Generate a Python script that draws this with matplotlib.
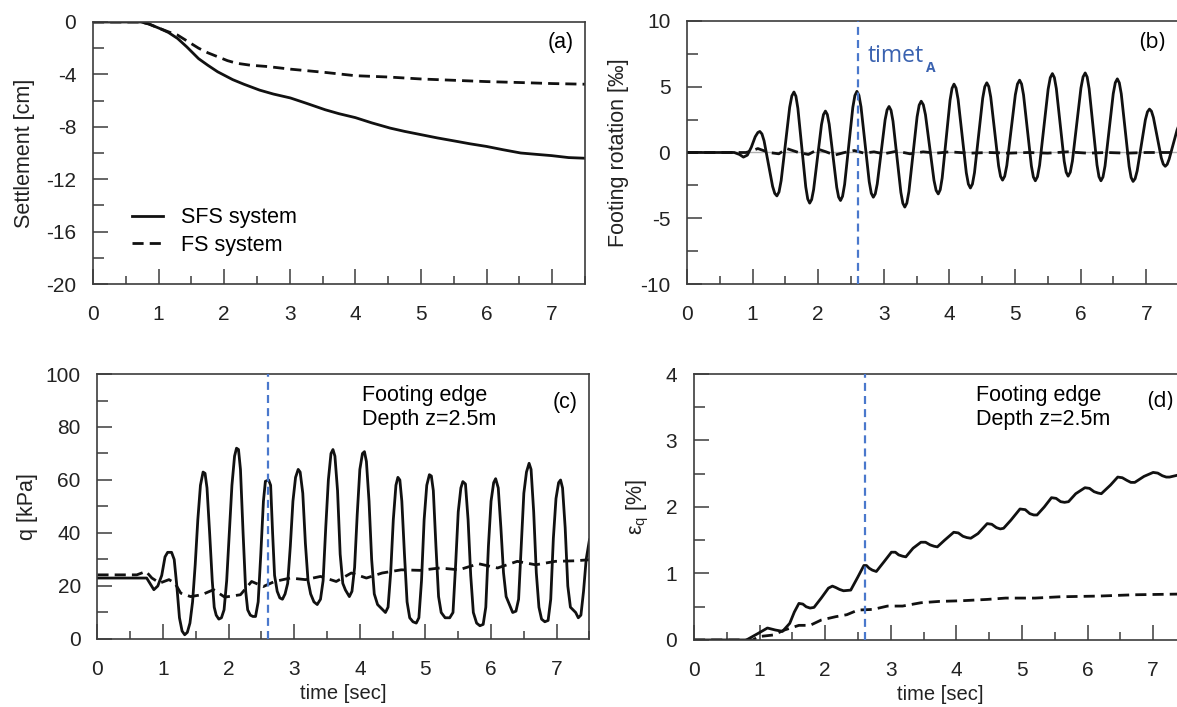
import matplotlib
matplotlib.use("Agg")
import matplotlib.pyplot as plt
from matplotlib.ticker import MultipleLocator

plt.rcParams['font.family'] = ['Liberation Sans', 'DejaVu Sans']
plt.rcParams['axes.unicode_minus'] = False

# (a) settlement [cm]
t_a = [0, 0.5, 0.73, 0.85, 1.02, 1.15, 1.29, 1.43, 1.61, 1.75, 1.9, 2.13, 2.3, 2.54, 2.75, 3.01, 3.25,
       3.54, 3.75, 4.0, 4.25, 4.53, 4.75, 5.0, 5.25, 5.53, 5.75, 6.0, 6.25, 6.52, 6.75, 6.99, 7.25, 7.5]
sfs_a = [0, 0, 0, -0.15, -0.5, -0.8, -1.26, -1.9, -2.8, -3.3, -3.8, -4.4, -4.75, -5.2, -5.5, -5.8, -6.2,
         -6.7, -7.0, -7.3, -7.7, -8.1, -8.35, -8.6, -8.85, -9.1, -9.3, -9.5, -9.75, -10.0, -10.1, -10.2, -10.35, -10.4]
t_a_fs = [0, 0.73, 0.85, 1.02, 1.15, 1.29, 1.45, 1.61, 1.75, 1.9, 2.05, 2.19, 2.4, 2.66, 3.01, 3.54,
          4.0, 4.5, 5.0, 5.5, 6.0, 6.5, 7.0, 7.5]
fs_a = [0, 0, -0.15, -0.5, -0.75, -1.0, -1.5, -2.0, -2.35, -2.65, -2.95, -3.15, -3.3, -3.4, -3.6, -3.85,
        -4.1, -4.2, -4.35, -4.45, -4.55, -4.62, -4.7, -4.75]

# (b) footing rotation [permil]
t_b = [0, 0.72, 0.80, 0.86, 0.92, 0.98, 1.04, 1.08, 1.11,
       1.1425, 1.175, 1.24, 1.305, 1.3375, 1.37,
       1.4025, 1.435, 1.50, 1.565, 1.5975, 1.63,
       1.66, 1.69, 1.75, 1.81, 1.84, 1.87,
       1.90, 1.93, 1.99, 2.05, 2.08, 2.11,
       2.139, 2.1675, 2.225, 2.2825, 2.311, 2.34,
       2.371, 2.4025, 2.465, 2.5275, 2.559, 2.59,
       2.621, 2.6525, 2.715, 2.7775, 2.809, 2.84,
       2.87, 2.90, 2.96, 3.02, 3.05, 3.08,
       3.11, 3.14, 3.20, 3.26, 3.29, 3.32,
       3.351, 3.3825, 3.445, 3.5075, 3.539, 3.57,
       3.6025, 3.635, 3.70, 3.765, 3.7975, 3.83,
       3.86, 3.89, 3.95, 4.01, 4.04, 4.07,
       4.101, 4.1325, 4.195, 4.2575, 4.289, 4.32,
       4.351, 4.3825, 4.445, 4.5075, 4.539, 4.57,
       4.60, 4.63, 4.69, 4.75, 4.78, 4.81,
       4.8425, 4.875, 4.94, 5.005, 5.0375, 5.07,
       5.10, 5.13, 5.19, 5.25, 5.28, 5.31,
       5.3425, 5.375, 5.44, 5.505, 5.5375, 5.57,
       5.60, 5.63, 5.69, 5.75, 5.78, 5.81,
       5.8425, 5.875, 5.94, 6.005, 6.0375, 6.07,
       6.10, 6.13, 6.19, 6.25, 6.28, 6.31,
       6.341, 6.3725, 6.435, 6.4975, 6.529, 6.56,
       6.59, 6.62, 6.68, 6.74, 6.77, 6.80,
       6.831, 6.8625, 6.925, 6.9875, 7.019, 7.05,
       7.08, 7.11, 7.17, 7.23, 7.26, 7.29,
       7.32, 7.35, 7.41, 7.47, 7.5]
sfs_b = [0, 0, -0.15, -0.35, -0.2, 0.4, 1.2, 1.52, 1.6,
         1.41, 0.88, -0.85, -2.58, -3.11, -3.3,
         -3.0, -2.14, 0.65, 3.44, 4.3, 4.6,
         4.28, 3.36, 0.38, -2.61, -3.53, -3.85,
         -3.58, -2.82, -0.35, 2.12, 2.88, 3.15,
         2.89, 2.15, -0.25, -2.65, -3.39, -3.65,
         -3.33, -2.43, 0.5, 3.43, 4.33, 4.65,
         4.35, 3.47, 0.63, -2.22, -3.1, -3.4,
         -3.14, -2.39, 0.05, 2.49, 3.24, 3.5,
         3.21, 2.38, -0.33, -3.03, -3.86, -4.15,
         -3.85, -2.97, -0.13, 2.72, 3.6, 3.9,
         3.63, 2.87, 0.38, -2.12, -2.88, -3.15,
         -2.83, -1.93, 1.03, 3.98, 4.88, 5.2,
         4.9, 4.04, 1.25, -1.54, -2.4, -2.7,
         -2.4, -1.53, 1.3, 4.13, 5.0, 5.3,
         5.02, 4.22, 1.6, -1.02, -1.82, -2.1,
         -1.81, -0.99, 1.7, 4.39, 5.21, 5.5,
         5.21, 4.38, 1.68, -1.03, -1.86, -2.15,
         -1.84, -0.96, 1.93, 4.81, 5.69, 6.0,
         5.7, 4.86, 2.1, -0.66, -1.5, -1.8,
         -1.5, -0.65, 2.13, 4.9, 5.75, 6.05,
         5.74, 4.85, 1.95, -0.95, -1.84, -2.15,
         -1.86, -1.02, 1.73, 4.47, 5.31, 5.6,
         5.3, 4.46, 1.7, -1.06, -1.9, -2.2,
         -1.99, -1.39, 0.55, 2.49, 3.09, 3.3,
         3.14, 2.66, 1.13, -0.41, -0.88, -1.05,
         -0.9, -0.5, 0.6, 1.7, 2.1]
t_b_fs = [0, 0.9, 1.0, 1.08, 1.25, 1.4, 1.52, 1.7, 1.85, 2.0, 2.12, 2.25, 2.4, 2.55, 2.7, 2.85, 3.0,
          3.2, 3.4, 3.6, 3.8, 4.0, 4.3, 4.6, 4.9, 5.2, 5.5, 5.8, 6.1, 6.4, 6.7, 7.0, 7.3, 7.5]
fs_b = [0, 0, 0.15, 0.3, 0.0, -0.1, 0.3, 0.0, -0.15, 0.25, 0.05, -0.2, 0.0, 0.15, -0.05, 0.05, -0.1,
        0.1, -0.1, 0.05, -0.05, 0.05, -0.05, 0.0, -0.05, 0.0, -0.05, 0.05, -0.05, 0.0, -0.05, 0.0, 0.0, 0.0]

# (c) q [kPa]
t_c = [0, 0.75, 0.80, 0.86, 0.92, 0.98, 1.03, 1.07, 1.13, 1.17, 1.21, 1.25, 1.29, 1.33, 1.37, 1.41,
       1.45, 1.49, 1.53, 1.57, 1.61, 1.64, 1.67, 1.71, 1.75, 1.78, 1.81, 1.85, 1.89, 1.93,
       1.97, 2.01, 2.05, 2.09, 2.12, 2.15, 2.18, 2.22, 2.26, 2.29, 2.33, 2.37, 2.41, 2.45,
       2.49, 2.53, 2.56, 2.61, 2.64, 2.67, 2.70, 2.74, 2.78, 2.82, 2.86, 2.90, 2.94, 2.98,
       3.02, 3.06, 3.09, 3.13, 3.17, 3.21, 3.25, 3.30, 3.35, 3.40, 3.44, 3.48, 3.52, 3.56,
       3.59, 3.62, 3.66, 3.70, 3.74, 3.78, 3.84, 3.88, 3.92, 3.96, 4.00, 4.04, 4.07, 4.10,
       4.14, 4.18, 4.22, 4.27, 4.33, 4.39, 4.43, 4.47, 4.51, 4.55, 4.58, 4.61, 4.64, 4.68,
       4.72, 4.76, 4.81, 4.86, 4.90, 4.94, 4.98, 5.02, 5.06, 5.09, 5.12, 5.16, 5.20, 5.24,
       5.30, 5.37, 5.42, 5.46, 5.50, 5.54, 5.57, 5.61, 5.65, 5.69, 5.73, 5.78, 5.83, 5.88,
       5.92, 5.96, 6.00, 6.04, 6.07, 6.11, 6.15, 6.19, 6.23, 6.28, 6.33, 6.38, 6.42, 6.46,
       6.50, 6.54, 6.58, 6.61, 6.65, 6.69, 6.73, 6.77, 6.82, 6.87, 6.91, 6.95, 6.99, 7.03,
       7.06, 7.09, 7.13, 7.17, 7.21, 7.25, 7.29, 7.33, 7.37, 7.41, 7.45, 7.5]
sfs_c = [23, 23, 21, 18.6, 20, 24, 31, 32.7, 32.7, 30, 20, 8, 3, 1.6, 2.5, 6,
         14, 28, 45, 58, 63, 62.5, 57, 40, 22, 12, 9, 7.5, 8, 11,
         22, 40, 58, 69, 72, 71.5, 64, 40, 18, 11, 9, 8.5, 8.5, 14,
         32, 52, 59.5, 60, 58, 40, 24, 18, 15.5, 15, 17, 21, 35, 52,
         61, 64, 63, 55, 36, 22, 17, 14, 13, 15, 22, 42, 60, 70,
         71.5, 69, 56, 32, 21, 18.5, 16, 18, 27, 47, 64, 70, 70.7, 67,
         52, 30, 17, 13, 11.5, 10, 12, 25, 45, 58, 61, 60, 52, 32,
         14, 8, 6.5, 6, 8, 22, 45, 58, 62, 61.5, 56, 35, 16, 10,
         8, 8, 10, 28, 48, 57, 59.4, 58.5, 45, 24, 10, 6, 5, 5.5,
         12, 35, 52, 59, 60.5, 57, 42, 25, 16, 13, 10, 10.5, 15, 35,
         55, 63, 66.3, 64, 48, 25, 12, 7.5, 6.5, 7, 15, 38, 53, 59,
         60, 57, 42, 20, 12, 11, 10, 8, 9, 18, 30, 37.4]
t_c_fs = [0, 0.6, 0.74, 0.83, 0.95, 1.09, 1.18, 1.27, 1.42, 1.59,
          1.77, 1.94, 2.18, 2.35, 2.53, 2.7, 2.94, 3.17, 3.4, 3.64,
          3.87, 4.1, 4.34, 4.63, 4.92, 5.22, 5.51, 5.81, 6.1, 6.4,
          6.68, 6.98, 7.27, 7.5]
fs_c = [24.2, 24.2, 25.5, 23, 21.1, 22.4, 21.1, 17.3, 16, 16.7,
        18.6, 15.8, 16.7, 21.7, 19.8, 21.7, 23, 22.4, 23.6, 21.7,
        24.9, 23, 24.9, 26.1, 25.9, 26.8, 26.1, 28.4, 26.8, 29.3,
        28, 29.3, 29.5, 29.9]

# (d) shear strain [%]
t_d = [0, 0.8, 0.98, 1.12, 1.24, 1.35, 1.46, 1.53, 1.6, 1.66, 1.71, 1.77, 1.83,
       1.94, 2.05, 2.11, 2.16, 2.22, 2.28, 2.39, 2.5, 2.59, 2.63, 2.67, 2.72, 2.78, 2.9,
       3.01, 3.07, 3.12, 3.18, 3.23, 3.34, 3.46, 3.53, 3.6, 3.66, 3.71, 3.82, 3.96, 4.03, 4.1,
       4.16, 4.22, 4.33, 4.47, 4.54, 4.61, 4.67, 4.72, 4.83, 4.97, 5.05, 5.12, 5.18, 5.23, 5.34,
       5.45, 5.52, 5.59, 5.65, 5.71, 5.82, 5.96, 6.03, 6.1, 6.16, 6.21, 6.35, 6.46, 6.53, 6.6,
       6.66, 6.72, 6.86, 7.0, 7.07, 7.14, 7.2, 7.25, 7.38, 7.5]
sfs_d = [0, 0, 0.1, 0.18, 0.15, 0.13, 0.25, 0.42, 0.55, 0.54, 0.5, 0.48, 0.49,
         0.63, 0.78, 0.81, 0.79, 0.76, 0.74, 0.75, 0.95, 1.12, 1.12, 1.08, 1.05, 1.03, 1.18,
         1.32, 1.32, 1.28, 1.26, 1.25, 1.38, 1.47, 1.47, 1.43, 1.41, 1.4, 1.5, 1.62, 1.61, 1.56,
         1.54, 1.53, 1.6, 1.75, 1.74, 1.69, 1.67, 1.68, 1.8, 1.97, 1.96, 1.9, 1.88, 1.88, 2.0,
         2.14, 2.13, 2.08, 2.07, 2.08, 2.2, 2.29, 2.28, 2.23, 2.21, 2.2, 2.33, 2.45, 2.44, 2.4,
         2.37, 2.37, 2.46, 2.52, 2.51, 2.47, 2.45, 2.45, 2.48, 2.5]
t_d_fs = [0, 0.9, 0.98, 1.21, 1.38, 1.6, 1.77, 1.94, 2.16, 2.33, 2.5, 2.73, 2.95, 3.18, 3.46, 3.74,
          4.08, 4.47, 4.75, 5.2, 5.59, 6.16, 6.72, 7.38, 7.5]
fs_d = [0, 0, 0.05, 0.075, 0.15, 0.22, 0.22, 0.3, 0.35, 0.38, 0.45, 0.46, 0.51, 0.51, 0.56, 0.58,
        0.59, 0.61, 0.63, 0.63, 0.65, 0.66, 0.68, 0.69, 0.69]

t_A = 2.6
labels = ['SFS system', 'FS system']

SPINE = '#3c3c3c'
BLUE = '#4a78cc'
FS = 15.5


def style(ax, ylim, ymaj, ymin, ylabel, ylab_x):
    ax.set_xlim(0, 7.5)
    ax.set_ylim(*ylim)
    ax.xaxis.set_major_locator(MultipleLocator(1))
    ax.xaxis.set_minor_locator(MultipleLocator(0.5))
    ax.yaxis.set_major_locator(MultipleLocator(ymaj))
    ax.yaxis.set_minor_locator(MultipleLocator(ymin))
    ax.tick_params(axis='x', which='major', direction='in', length=10.5, width=1.1,
                   color=SPINE, pad=15, labelsize=15, labelcolor='#222222')
    ax.tick_params(axis='x', which='minor', direction='in', length=6, width=1.1, color=SPINE)
    ax.tick_params(axis='y', which='major', direction='in', length=11, width=1.1,
                   color=SPINE, pad=12, labelsize=15, labelcolor='#222222')
    ax.tick_params(axis='y', which='minor', direction='in', length=8, width=1.1, color=SPINE)
    for s in ax.spines.values():
        s.set_color(SPINE)
        s.set_linewidth(1.2)
    ax.set_ylabel(ylabel, fontsize=FS, color='#222222')
    ax.yaxis.set_label_coords(ylab_x, 0.5)


def tline(ax):
    ax.axvline(t_A, color=BLUE, lw=1.6, dashes=(3.6, 2.3), zorder=3)


def note(ax, x):
    ax.text(x, 0.958, 'Footing edge\nDepth z=2.5m', transform=ax.transAxes, ha='left',
            va='top', fontsize=FS, linespacing=1.2)


fig = plt.figure(figsize=(11.77, 7.07), dpi=100)
ax_a = fig.add_axes([0.0790, 0.5983, 0.4180, 0.3706])
ax_b = fig.add_axes([0.5837, 0.5983, 0.4180, 0.3720])
ax_c = fig.add_axes([0.0828, 0.0962, 0.4180, 0.3748])
ax_d = fig.add_axes([0.5896, 0.0948, 0.4180, 0.3762])

# (a)
ax_a.plot(t_a, sfs_a, color='#111111', lw=2.0, label=labels[0])
ax_a.plot(t_a_fs, fs_a, color='#111111', lw=2.0, dashes=(4, 2.2), label=labels[1])
style(ax_a, (-20, 0), 4, 2, 'Settlement [cm]', -0.118)
ax_a.text(0.951, 0.92, '(a)', transform=ax_a.transAxes, ha='center', va='center', fontsize=FS)
ax_a.legend(frameon=False, loc='center left', bbox_to_anchor=(0.057, 0.20), fontsize=FS,
            handlelength=1.45, handletextpad=0.85, labelspacing=0.3, borderpad=0)

# (b)
ax_b.axhline(0, color='#b0b0b0', lw=1.0, zorder=1)
ax_b.plot(t_b, sfs_b, color='#111111', lw=2.0, solid_joinstyle='round', zorder=2)
ax_b.plot(t_b_fs, fs_b, color='#111111', lw=2.0, dashes=(4, 2.2), zorder=2)
tline(ax_b)
style(ax_b, (-10, 10), 5, 2.5, 'Footing rotation [‰]', -0.118)
ax_b.text(0.945, 0.92, '(b)', transform=ax_b.transAxes, ha='center', va='center', fontsize=FS,
          family=['Open Sans', 'DejaVu Sans'])
txt = ax_b.text(2.76, 6.9, 'timet', color='#3a62b0', fontsize=16.5, ha='left', va='baseline',
                family=['Open Sans', 'DejaVu Sans'])
ax_b.annotate('A', xy=(1.0, 0.0), xycoords=txt, xytext=(1, -3), textcoords='offset points',
              color='#3a62b0', fontsize=10, fontweight='bold', ha='left', va='baseline',
              family=['Open Sans', 'DejaVu Sans'])

# (c)
ax_c.plot(t_c, sfs_c, color='#111111', lw=2.0, solid_joinstyle='round', zorder=2)
ax_c.plot(t_c_fs, fs_c, color='#111111', lw=2.0, dashes=(4, 2.2), zorder=2)
tline(ax_c)
style(ax_c, (0, 100), 20, 10, 'q [kPa]', -0.12)
ax_c.set_xlabel('time [sec]', fontsize=14.5, color='#222222')
ax_c.xaxis.set_label_coords(0.5, -0.17)
ax_c.text(0.951, 0.894, '(c)', transform=ax_c.transAxes, ha='center', va='center', fontsize=FS)
note(ax_c, 0.537)

# (d)
ax_d.plot(t_d, sfs_d, color='#111111', lw=2.0, solid_joinstyle='round', zorder=2)
ax_d.plot(t_d_fs, fs_d, color='#111111', lw=2.0, dashes=(4, 2.2), zorder=2)
tline(ax_d)
style(ax_d, (0, 4), 1, 0.5, 'ε$_\\mathregular{q}$ [%]', -0.088)
ax_d.set_xlabel('time [sec]', fontsize=14.5, color='#222222')
ax_d.xaxis.set_label_coords(0.5, -0.17)
ax_d.text(0.947, 0.898, '(d)', transform=ax_d.transAxes, ha='center', va='center', fontsize=FS,
          family=['Open Sans', 'DejaVu Sans'])
note(ax_d, 0.573)

fig.savefig('out.png', dpi=100)
